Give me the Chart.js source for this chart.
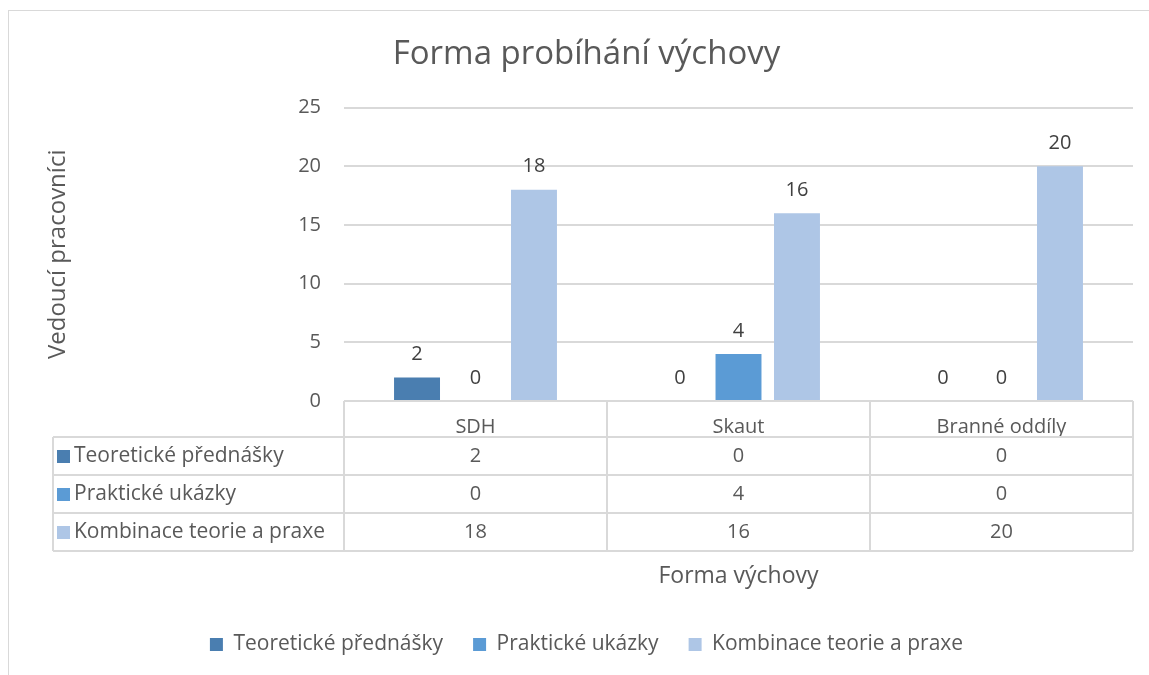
<!DOCTYPE html>
<html>
<head>
<meta charset="utf-8">
<script src="https://cdn.jsdelivr.net/npm/chart.js@4/dist/chart.umd.min.js"></script>
<style>
  html, body { margin: 0; padding: 0; background: #fff; }
  #wrap { width: 1149px; height: 675px; }
</style>
</head>
<body>
<div id="wrap"><canvas id="formaChart" width="1149" height="675"></canvas></div>
<script>
var categories = ["SDH", "Skaut", "Branné oddíly"];
var seriesNames = ["Teoretické přednášky", "Praktické ukázky", "Kombinace teorie a praxe"];
var teoretickeValues = [2, 0, 0];
var praktickeValues = [0, 4, 0];
var kombinaceValues = [18, 16, 20];
var yTicks = [0, 5, 10, 15, 20, 25];

var seriesColors = ["#4a7eb0", "#5b9bd5", "#aec6e6"];
var textColor = "#595959";
var lineColor = "#d9d9d9";
var fontFamily = "'Open Sans', 'Noto Sans', sans-serif";

// frame around the whole chart
var framePlugin = {
    id: "frame",
    beforeDraw: function (chart) {
        var ctx = chart.ctx;
        ctx.save();
        ctx.strokeStyle = lineColor;
        ctx.lineWidth = 1;
        ctx.strokeRect(8.5, 10.5, 1150, 700);
        ctx.restore();
    }
};

// value labels above bars
var valueLabels = {
    id: "valueLabels",
    afterDatasetsDraw: function (chart) {
        var ctx = chart.ctx;
        ctx.save();
        ctx.fillStyle = "#404040";
        ctx.font = "20px " + fontFamily;
        ctx.textAlign = "center";
        ctx.textBaseline = "bottom";
        chart.data.datasets.forEach(function (ds, di) {
            chart.getDatasetMeta(di).data.forEach(function (bar, i) {
                ctx.fillText(ds.data[i], bar.x, bar.y - 13);
            });
        });
        ctx.restore();
    }
};

// data table under the plot
var dataTable = {
    id: "dataTable",
    afterDraw: function (chart) {
        var ctx = chart.ctx;
        var x = chart.scales.x;
        var top = chart.chartArea.bottom;
        var headH = 36, rowH = 38;
        var leftCol = 53;
        var n = categories.length;
        var w = (x.right - x.left) / n;
        var bottom = top + headH + rowH * seriesNames.length;

        ctx.save();
        ctx.strokeStyle = lineColor;
        ctx.lineWidth = 2;
        ctx.beginPath();
        ctx.moveTo(x.left, top); ctx.lineTo(x.right, top);
        for (var r = 0; r <= seriesNames.length; r++) {
            var yy = top + headH + r * rowH;
            ctx.moveTo(leftCol, yy); ctx.lineTo(x.right, yy);
        }
        for (var c = 0; c <= n; c++) {
            var xx = x.left + c * w;
            ctx.moveTo(xx, top); ctx.lineTo(xx, bottom);
        }
        ctx.moveTo(leftCol, top + headH); ctx.lineTo(leftCol, bottom);
        ctx.stroke();

        ctx.textBaseline = "middle";
        chart.data.datasets.forEach(function (ds, di) {
            var cy = top + headH + di * rowH + rowH / 2;
            ctx.fillStyle = ds.backgroundColor;
            ctx.fillRect(leftCol + 4, cy - 6, 13, 13);
            ctx.fillStyle = textColor;
            ctx.textAlign = "left";
            ctx.font = "21px " + fontFamily;
            ctx.fillText(ds.label, leftCol + 21, cy);
            ctx.textAlign = "center";
            ctx.font = "20px " + fontFamily;
            ds.data.forEach(function (v, i) {
                ctx.fillText(v, x.getPixelForValue(i), cy);
            });
        });
        ctx.restore();
    }
};

document.addEventListener("DOMContentLoaded", function () {
    var ctx = document.getElementById("formaChart").getContext("2d");
    new Chart(ctx, {
        type: "bar",
        data: {
            labels: categories,
            datasets: [{
                label: seriesNames[0],
                data: teoretickeValues,
                backgroundColor: seriesColors[0]
            }, {
                label: seriesNames[1],
                data: praktickeValues,
                backgroundColor: seriesColors[1]
            }, {
                label: seriesNames[2],
                data: kombinaceValues,
                backgroundColor: seriesColors[2]
            }]
        },
        plugins: [framePlugin, valueLabels, dataTable],
        options: {
            responsive: false,
            animation: false,
            datasets: { bar: { categoryPercentage: 0.667, barPercentage: 0.786 } },
            layout: { padding: { left: 40, right: 16, top: 8, bottom: 10 } },
            plugins: {
                title: {
                    display: true,
                    text: "Forma probíhání výchovy",
                    color: textColor,
                    font: { family: fontFamily, size: 33, weight: "normal" },
                    padding: { top: 27, bottom: 33 }
                },
                legend: {
                    position: "bottom",
                    labels: {
                        color: textColor,
                        font: { family: fontFamily, size: 21 },
                        boxWidth: 13,
                        boxHeight: 13,
                        padding: 30
                    }
                },
                tooltip: { enabled: false }
            },
            scales: {
                x: {
                    grid: { display: false },
                    border: { display: false },
                    ticks: { color: textColor, font: { family: fontFamily, size: 20 }, padding: 6 },
                    title: {
                        display: true,
                        text: "Forma výchovy",
                        color: textColor,
                        font: { family: fontFamily, size: 23 },
                        padding: { top: 0, bottom: 14 }
                    },
                    afterFit: function (scale) { scale.height = 203; }
                },
                y: {
                    min: 0,
                    max: 25,
                    afterBuildTicks: function (scale) {
                        scale.ticks = yTicks.map(function (v) { return { value: v }; });
                    },
                    grid: { color: lineColor, lineWidth: 2, drawTicks: false },
                    border: { display: false },
                    ticks: { color: textColor, font: { family: fontFamily, size: 20 }, padding: 23 },
                    title: {
                        display: true,
                        text: "Vedoucí pracovníci",
                        color: textColor,
                        font: { family: fontFamily, size: 24 },
                        padding: { top: 4, bottom: 0 }
                    },
                    afterFit: function (scale) { scale.width = 304; }
                }
            }
        }
    });
});
</script>
</body>
</html>
